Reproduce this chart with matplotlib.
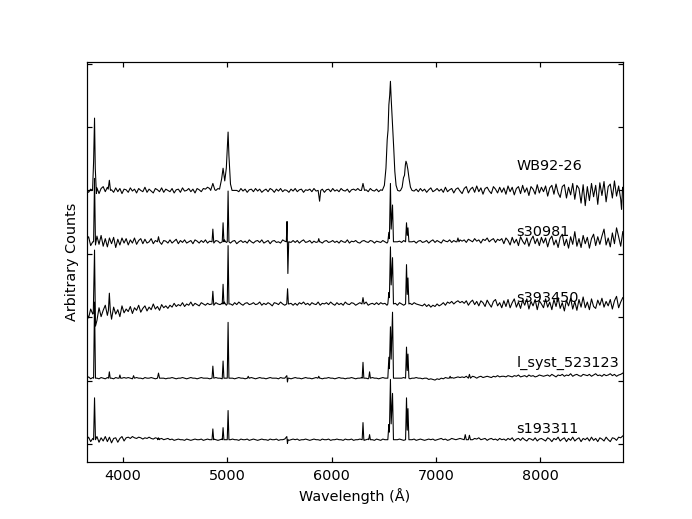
import numpy as np
import matplotlib
matplotlib.use("Agg")
import matplotlib.pyplot as plt

# ---------------- data ----------------
names = ["WB92-26", "s30981", "s393450", "l_syst_523123", "s193311"]
offsets = [4.00, 3.19, 2.21, 1.04, 0.07]
label_x = 7770
label_y = [4.38, 3.35, 2.31, 1.28, 0.24]

# continuum samples every 20 A starting at 3650 A, in hundredths of a unit
grid_start = 3650
grid_step = 20

noise_wb = [0, -3, 2, 0, 0, 4, -5, 3, 6, -2, 5, -4, 1, -3, 4, -2, 3, -5, 2, 1,
            -3, 4, -1, 2, -4, 3, 0, -2, 5, -3, 2, -1, -4, 3, 1, -2, 4, -3, 2, 0,
            -2, 3, -4, 1, 2, -3, 4, -1, 0, 3, -2, 2, -4, 3, 1, -2, 3, 2, 5, 3,
            0, 2, 0, 3, 4, 0, 0, 0, 0, 0, 0, 0, 0, -2, 3, -1, 2, -3, 1, 2,
            -2, 3, -1, 2, -3, 0, 2, -2, 3, 1, -3, 2, -1, 3, -2, 1, 0, -3, 2, -1,
            3, -2, 1, 2, -3, 1, 0, 2, -2, 3, -1, 0, 0, 2, -3, 1, 2, -2, 3, -1,
            1, -2, 3, 0, -1, 2, -3, 1, 2, 0, 3, 0, 0, 2, 1, -2, 3, 0, -1, 2,
            -2, 1, 0, 0, 0, 0, 0, 0, 0, 0, -1, 0, 0, 0, 0, 0, 0, -1, 2, -2,
            3, -1, 2, -3, 1, 4, -2, 0, 3, -1, 2, -3, 5, -2, 1, 3, -4, 2, 4, -1,
            -5, 3, 6, -4, 2, 5, -3, 7, -2, 4, -6, 3, 5, -1, -5, 6, 2, -4, 5, -3,
            4, -6, 7, -2, 5, -7, 3, 6, -5, 8, -3, 4, -8, 6, 2, -6, 9, -4, 5, -2,
            7, -9, 4, 8, -6, 10, -4, -11, 6, 9, -12, 5, -7, 11, -14, 8, 3, -20, 9, -24,
            6, -16, 11, -10, 8, -22, 12, -8, 14, -18, 6, 10, -12, 15, -9, 7, -14, 4]
noise_s30981 = [3, 8, -6, 0, 0, 9, -4, 10, -7, 5, -8, 6, -3, 7, -9, 4, -5, 6, -2, 5,
                -5, 3, -2, 6, -4, 2, 5, -3, 4, -2, 0, 5, -3, 2, -1, 3, -4, 2, 1, -2,
                3, -2, 1, 4, -3, 2, -1, 3, -2, 0, 2, -3, 3, 1, -2, 2, -1, 3, -2, 1,
                0, -2, 2, 1, -2, 0, 3, -1, 2, -2, 1, 2, -3, 0, 2, -1, 1, -2, 3, 0,
                -2, 1, 2, -1, 3, -2, 0, 2, -3, 1, 2, -1, 0, -2, 3, 1, 0, 0, -1, 2,
                -1, 2, -2, 1, 3, -1, 0, 2, -2, 1, -1, 3, 0, -2, 1, 2, -1, 0, 2, -1,
                1, -2, 2, 0, -1, 3, -2, 1, 0, 2, -1, -2, 1, 2, 0, -1, 2, 1, -2, 1,
                0, -1, 2, 0, -2, 1, 0, 0, 0, 0, 1, -1, 2, 0, 0, 0, 0, 1, -2, 1,
                2, -1, 0, 2, -2, 1, 3, -1, 2, 0, -2, 3, 1, 0, 3, -1, 2, 0, 0, 3,
                1, 3, -1, 4, 2, 0, 5, 1, 3, -2, 4, 2, 6, 0, 3, 5, -1, 4, 2, 5,
                -3, 6, 2, -5, 7, -2, 4, -6, 8, 1, -4, 6, -7, 3, 9, -3, 5, -6, 7, -2,
                6, -8, 4, 9, -5, 3, -9, 7, 12, -6, 4, -10, 8, -4, 16, -7, 5, -9, 10, -3,
                7, -10, 5, 12, -6, 8, -4, 9, 20, -5, 6, -8, 14, -3, 22, 8, -7, 16]
noise_s393450 = [-14, -22, -8, -16, 0, -26, -6, -20, -10, -2, -18, -12, -24, -5, -16, -9, -20, -3, -14, -8,
                 -12, -4, -15, -6, -10, -2, -13, -7, -3, -11, -5, -9, 0, -8, -4, -10, -1, -6, -3, -7,
                 -2, -5, 1, -4, -1, -3, 2, -4, 0, -2, 3, -3, 1, -1, -3, 2, 0, -2, 1, -1,
                 0, -2, 2, 0, -1, 1, 3, -2, 1, 0, -2, 2, -1, 3, 0, -2, 1, 2, -1, 0,
                 2, -1, 0, 3, -2, 1, -1, 2, 0, -3, 2, 1, -1, 3, 0, -2, 2, 0, 1, -2,
                 1, -2, 2, 0, 3, -1, 1, -2, 2, 0, -1, 3, -2, 1, 0, 2, -1, 3, 0, -2,
                 2, -1, 1, -2, 3, 0, -1, 2, 1, -2, 0, 2, -1, 1, 3, -2, 0, 1, -1, 2,
                 -1, 2, 0, 1, -2, 0, 0, 0, 1, -2, 2, 0, -2, 0, 0, 1, -1, 2, 0, -1,
                 -2, -3, 0, -4, -1, -5, -2, -4, 0, -3, -1, 2, -2, 3, 1, 4, 0, 3, 5, 2,
                 4, 1, 5, -2, 3, 6, -1, 4, -3, 5, 2, -4, 6, 0, -5, 4, 7, -3, 2, -6,
                 5, -4, 7, -6, 2, 8, -5, 3, -7, 6, -2, 8, -8, 4, -3, 7, -9, 5, 0, -6,
                 8, -5, 3, -9, 7, -4, 10, -7, 2, -11, 6, -3, 9, -8, 4, -10, 7, -5, 11, -6,
                 3, -9, 8, -4, -7, 6, -2, 9, -5, 4, -3, 7, -8, 5, 12, -6, 3, 10]
noise_lsyst = [0, 2, -1, 1, 0, 0, -1, 1, 0, -1, 1, 0, 0, -1, 1, 0, -1, 0, 1, 0,
               1, 0, -1, 0, 1, 0, 0, -1, 1, 0, 0, 1, 0, -1, 0, 1, 0, 0, -1, 0,
               0, 1, 0, -1, 0, 0, 1, 0, -1, 0, 1, 0, 0, -1, 0, 1, 0, 0, 0, -1,
               0, 0, 1, 0, 0, -1, 0, 0, 1, 0, 0, -1, 0, 1, 0, 0, -1, 0, 0, 1,
               0, -1, 0, 1, 0, 0, -1, 0, 1, 0, 0, 0, -1, 1, 0, 0, 1, 0, -1, 0,
               1, 0, 0, -1, 0, 1, 0, 0, -1, 0, 1, 0, 0, -1, 0, 0, 1, 0, 0, -1,
               0, 1, 0, 0, -1, 0, 0, 1, 0, -1, 0, 0, 1, 0, 0, -1, 0, 1, 0, 0,
               -1, 0, 1, 0, 0, 0, 0, 0, 0, 0, 0, 0, 1, 0, 0, -1, 0, 0, 1, 0,
               0, -1, 0, 0, -2, -1, -2, -3, -1, -2, 0, -1, 1, 0, 2, 1, 0, 1, 2, 1,
               2, 1, 3, 2, 1, 3, 2, 0, 2, 3, 1, 2, 3, 2, 1, 3, 2, 4, 2, 3,
               3, 2, 4, 3, 2, 4, 3, 5, 2, 3, 4, 2, 5, 3, 4, 2, 3, 5, 4, 3,
               4, 5, 3, 6, 4, 2, 5, 4, 6, 3, 5, 4, 7, 3, 5, 6, 4, 3, 6, 5,
               4, 6, 3, 5, 7, 4, 5, 3, 6, 4, 5, 7, 4, 6, 3, 5, 6, 8]
noise_s193311 = [0, 4, -3, 2, 0, 5, -4, 3, -2, 5, -3, 4, -5, 2, 3, -4, 2, 5, -2, 3,
                 4, 2, 5, 3, 2, 4, 3, 1, 3, 2, 4, 2, 1, 3, 2, 1, 2, 0, 1, 2,
                 0, 1, -1, 0, 1, 0, 0, -1, 1, 0, -1, 0, 1, 0, 0, 1, -1, 0, 1, 0,
                 0, 1, 0, -1, 0, 1, 0, 0, -1, 0, 1, 0, 0, -1, 1, 0, 0, 1, -1, 0,
                 1, 0, -1, 0, 1, 0, 0, -1, 1, 0, 0, 1, -1, 0, 0, 1, 0, -1, 0, 1,
                 0, 1, -1, 0, 0, 1, 0, -1, 0, 1, 0, 0, -1, 1, 0, 0, 1, -1, 0, 0,
                 1, 0, 0, -1, 1, 0, 0, 1, -1, 0, 0, 1, 0, -1, 0, 1, 0, 0, -1, 1,
                 0, -1, 1, 0, 0, 0, 0, 0, 0, 0, 1, 0, -1, 0, 0, 0, 0, 1, -1, 0,
                 1, 0, -1, 0, 1, 0, 1, -1, 0, 1, 2, 0, 1, -1, 0, 2, 1, 0, 1, 2,
                 1, 3, 0, 2, 1, 0, 2, 1, 3, 0, 1, 2, -1, 1, 2, 0, 1, -1, 2, 0,
                 1, -1, 2, 0, 3, -2, 1, 2, -1, 3, 0, -2, 2, 1, -1, 3, -2, 1, 2, 0,
                 -2, 3, 1, -3, 2, 0, 4, -2, 1, 3, -3, 2, -1, 4, -2, 1, 3, -3, 2, 0,
                 3, -2, 4, -1, 2, -3, 3, 1, -2, 4, 0, -3, 3, 2, -1, 4, 3, 6]

# emission / absorption features: wavelength groups and flux (relative to baseline)
feat_wl_wb = [[3708, 3718, 3727, 3734, 3745],
              [3858, 3869, 3880],
              [4840, 4861, 4880],
              [4925, 4945, 4959, 4975, 4990, 5000, 5007, 5015, 5030, 5045],
              [5870, 5884, 5895],
              [6285, 6300, 6315],
              [6485, 6505, 6520, 6532, 6540, 6548, 6556, 6563, 6570, 6578, 6586, 6595, 6605, 6617, 6632],
              [6660, 6675, 6688, 6698, 6706, 6712, 6720, 6730, 6742, 6755, 6770],
              [8778, 8788]]
feat_fx_wb = [[0.0, 0.45, 1.14, 0.35, -0.05],
              [0.02, 0.16, 0.0],
              [0.0, 0.11, 0.01],
              [0.02, 0.18, 0.35, 0.15, 0.35, 0.7, 0.92, 0.55, 0.1, 0.0],
              [0.0, -0.17, 0.0],
              [0.0, 0.11, 0.0],
              [0.0, 0.08, 0.35, 0.8, 0.95, 1.35, 1.5, 1.72, 1.45, 1.2, 0.98, 0.65, 0.3, 0.08, 0.0],
              [0.0, 0.05, 0.2, 0.24, 0.4, 0.46, 0.42, 0.33, 0.18, 0.05, 0.0],
              [-0.3, 0.05]]

feat_wl_s30981 = [[3718, 3727, 3736], [4330, 4340, 4350], [4853, 4861, 4869],
                  [4951, 4959, 4967], [4999, 5007, 5015], [5565, 5572, 5580, 5588],
                  [5868, 5876, 5884], [6538, 6548, 6553, 6563, 6570, 6583, 6592],
                  [6708, 6717, 6724, 6731, 6740], [7200, 7210, 7220]]
feat_fx_s30981 = [[0.0, 1.0, -0.05], [0.0, 0.08, 0.0], [0.0, 0.2, 0.0],
                  [0.0, 0.3, 0.0], [0.0, 0.8, 0.0], [0.0, 0.32, -0.5, 0.0],
                  [0.0, 0.05, 0.0], [0.0, 0.15, 0.05, 0.92, 0.2, 0.58, 0.0],
                  [0.0, 0.3, 0.1, 0.22, 0.0], [0.0, 0.06, 0.0]]

feat_wl_s393450 = [[3715, 3727, 3736], [3860, 3869, 3878], [4853, 4861, 4869],
                   [4951, 4959, 4967], [4999, 5007, 5015], [5569, 5577, 5585],
                   [6290, 6300, 6310], [6538, 6548, 6553, 6563, 6570, 6583, 6592],
                   [6708, 6717, 6724, 6731, 6740]]
feat_fx_s393450 = [[-0.15, 0.85, -0.35], [-0.1, 0.17, -0.1], [0.0, 0.2, 0.0],
                   [0.0, 0.31, 0.0], [0.0, 0.92, 0.0], [0.0, 0.24, 0.0],
                   [0.0, 0.1, 0.0], [0.0, 0.18, 0.1, 0.9, 0.3, 0.73, 0.0],
                   [0.0, 0.62, 0.15, 0.41, 0.0]]

feat_wl_lsyst = [[3718, 3727, 3736], [3861, 3869, 3877], [3962, 3970, 3978],
                 [4093, 4101, 4109], [4330, 4340, 4350], [4853, 4861, 4869],
                 [4951, 4959, 4967], [4999, 5007, 5015], [5192, 5200, 5208],
                 [5570, 5576, 5582], [5868, 5876, 5884], [6292, 6300, 6308],
                 [6355, 6363, 6371], [6538, 6548, 6553, 6563, 6570, 6583, 6592],
                 [6708, 6717, 6724, 6731, 6740], [7127, 7135, 7143], [7310, 7320, 7330]]
feat_fx_lsyst = [[0.0, 1.2, 0.0], [0.0, 0.1, 0.0], [0.0, 0.05, 0.0],
                 [0.0, 0.04, 0.0], [0.0, 0.08, 0.0], [0.0, 0.19, 0.0],
                 [0.0, 0.27, 0.0], [0.0, 0.88, 0.0], [0.0, 0.03, 0.0],
                 [0.04, -0.06, 0.0], [0.0, 0.03, 0.0], [0.0, 0.25, 0.0],
                 [0.0, 0.1, 0.0], [0.0, 0.33, 0.15, 0.81, 0.3, 1.04, 0.0],
                 [0.0, 0.49, 0.12, 0.38, 0.0], [0.0, 0.03, 0.0], [0.0, 0.06, 0.0]]

feat_wl_s193311 = [[3718, 3727, 3736], [4332, 4340, 4348], [4853, 4861, 4869],
                   [4951, 4959, 4967], [4999, 5007, 5015], [5570, 5576, 5582],
                   [6292, 6300, 6308], [6355, 6363, 6371],
                   [6538, 6548, 6553, 6563, 6570, 6583, 6592],
                   [6708, 6717, 6724, 6731, 6740],
                   [7270, 7280, 7290, 7310, 7320, 7330]]
feat_fx_s193311 = [[0.0, 0.66, 0.0], [0.0, 0.03, 0.0], [0.0, 0.17, 0.0],
                   [0.0, 0.19, 0.0], [0.0, 0.46, 0.0], [0.05, -0.06, 0.0],
                   [0.0, 0.27, 0.0], [0.0, 0.08, 0.0],
                   [0.0, 0.24, 0.12, 0.95, 0.25, 0.73, 0.0],
                   [0.0, 0.66, 0.15, 0.49, 0.0],
                   [0.0, 0.08, 0.0, 0.0, 0.07, 0.0]]

noises = [noise_wb, noise_s30981, noise_s393450, noise_lsyst, noise_s193311]
feats_wl = [feat_wl_wb, feat_wl_s30981, feat_wl_s393450, feat_wl_lsyst, feat_wl_s193311]
feats_fx = [feat_fx_wb, feat_fx_s30981, feat_fx_s393450, feat_fx_lsyst, feat_fx_s193311]


def build(noise, fwl, ffx, offset):
    wl = grid_start + grid_step * np.arange(len(noise), dtype=float)
    fx = np.array(noise, dtype=float) / 100.0
    keep = np.ones(len(wl), bool)
    for g in fwl:
        if len(g) > 1:
            keep &= ~((wl >= g[0]) & (wl <= g[-1]))
    allw = np.concatenate([wl[keep]] + [np.array(g, float) for g in fwl])
    allf = np.concatenate([fx[keep]] + [np.array(g, float) for g in ffx])
    order = np.argsort(allw, kind="stable")
    return allw[order], allf[order] + offset


# ---------------- plot ----------------
fig = plt.figure(figsize=(8, 6), dpi=86.5)
ax = fig.add_subplot(111)
fig.subplots_adjust(left=0.125, right=0.9, bottom=0.11, top=0.88)

for i in range(len(names)):
    x, y = build(noises[i], feats_wl[i], feats_fx[i], offsets[i])
    ax.plot(x, y, color="black", lw=0.9)
    ax.text(label_x, label_y[i], names[i], fontsize=12, va="center", ha="left")

ax.set_xlim(3650, 8790)
ax.set_ylim(-0.28, 6.02)
ax.set_xticks([4000, 5000, 6000, 7000, 8000])
ax.set_yticks([0, 1, 2, 3, 4, 5, 6])
ax.set_yticklabels([])
ax.tick_params(direction="in", top=True, right=True, length=4.5, width=1,
               labelsize=12, pad=6)
for s in ax.spines.values():
    s.set_linewidth(1.0)
ax.set_xlabel("Wavelength (Å)", fontsize=12)
ax.set_ylabel("Arbitrary Counts", fontsize=12, labelpad=0)

fig.savefig("out.png", dpi=86.5)
